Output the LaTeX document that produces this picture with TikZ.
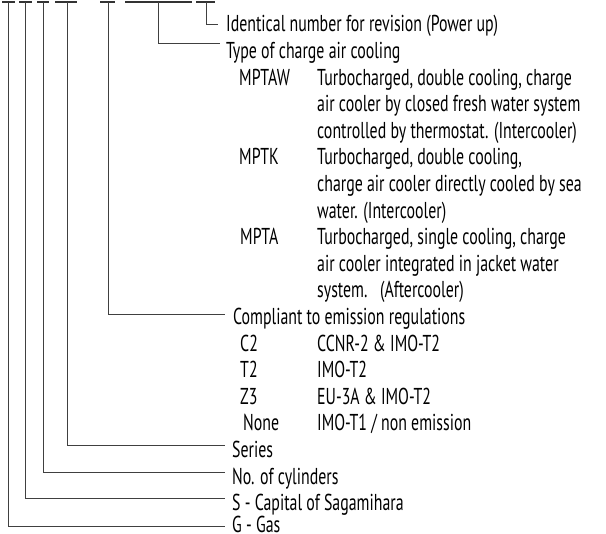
\documentclass[tikz,border=0pt]{standalone}
\usepackage{fontspec}
\setmainfont{PT Sans}[FakeStretch=0.69]
\tikzset{
  lead/.style={line width=0.9pt, draw=black!75},
  under/.style={line width=1.2pt, draw=black!80},
  lbl/.style={anchor=base west, inner sep=0pt, text=black, font=\fontsize{23}{26.6}\selectfont},
}
\begin{document}
\begin{tikzpicture}[x=1pt,y=-1pt]
\clip (0,0) rectangle (606,534);
% underlines of the type code
\draw[under] (2,2) -- (15,2);
\draw[under] (19,2) -- (32,2);
\draw[under] (37,2) -- (49,2);
\draw[under] (55,2) -- (77,2);
\draw[under] (100,2) -- (115,2);
\draw[under] (125,2) -- (192,2);
\draw[under] (196,2) -- (215,2);
\coordinate (cgas) at (8,2);
\coordinate (ccap) at (25,2);
\coordinate (ccyl) at (43,2);
\coordinate (cser) at (67,2);
\coordinate (cemi) at (108,2);
\coordinate (ccool) at (158,2);
\coordinate (crev) at (206,2);
% headings and tables
\node[lbl] (revision) at (226,32.0) {Identical number for revision (Power up)};
\node[lbl] (cooling) at (226,58.6) {Type of charge air cooling};
\node[lbl] (mptaw) at (239,85.2) {MPTAW};
\node[lbl] (mptawa) at (317,85.2) {Turbocharged, double cooling, charge};
\node[lbl] (mptawb) at (317,111.8) {air cooler by closed fresh water system};
\node[lbl] (mptawc) at (317,138.4) {controlled by thermostat. (Intercooler)};
\node[lbl] (mptk) at (239,165.0) {MPTK};
\node[lbl] (mptka) at (317,165.0) {Turbocharged, double cooling,};
\node[lbl] (mptkb) at (317,191.6) {charge air cooler directly cooled by sea};
\node[lbl] (mptkc) at (317,218.2) {water. (Intercooler)};
\node[lbl] (mpta) at (240,244.8) {MPTA};
\node[lbl] (mptaa) at (317,244.8) {Turbocharged, single cooling, charge};
\node[lbl] (mptab) at (317,271.4) {air cooler integrated in jacket water};
\node[lbl] (mptac) at (317,298.0) {system.\ \ \ (Aftercooler)};
\node[lbl] (emission) at (233,324.6) {Compliant to emission regulations};
\node[lbl] (ctwo) at (240,351.2) {C2};
\node[lbl] (ctwoa) at (317,351.2) {CCNR-2 \& IMO-T2};
\node[lbl] (ttwo) at (240,377.8) {T2};
\node[lbl] (ttwoa) at (317,377.8) {IMO-T2};
\node[lbl] (zthree) at (240,404.4) {Z3};
\node[lbl] (zthreea) at (317,404.4) {EU-3A \& IMO-T2};
\node[lbl] (none) at (243,431.0) {None};
\node[lbl] (nonea) at (317,431.0) {IMO-T1 / non emission};
\node[lbl] (series) at (232,457.6) {Series};
\node[lbl] (cylinders) at (232,484.2) {No. of cylinders};
\node[lbl] (capital) at (232,510.8) {S - Capital of Sagamihara};
\node[lbl] (gas) at (232,533.0) {G - Gas};
% leaders
\draw[lead] (crev) |- ([xshift=-8pt,yshift=8pt]revision.base west);
\draw[lead] (ccool) |- ([xshift=-6pt,yshift=15pt]cooling.base west);
\draw[lead] (cemi) |- ([xshift=-8pt,yshift=10pt]emission.base west);
\draw[lead] (cser) |- ([xshift=-7pt,yshift=12pt]series.base west);
\draw[lead] (ccyl) |- ([xshift=-7pt,yshift=12pt]cylinders.base west);
\draw[lead] (ccap) |- ([xshift=-7pt,yshift=12pt]capital.base west);
\draw[lead] (cgas) |- ([xshift=-7pt,yshift=7pt]gas.base west);
\end{tikzpicture}
\end{document}
